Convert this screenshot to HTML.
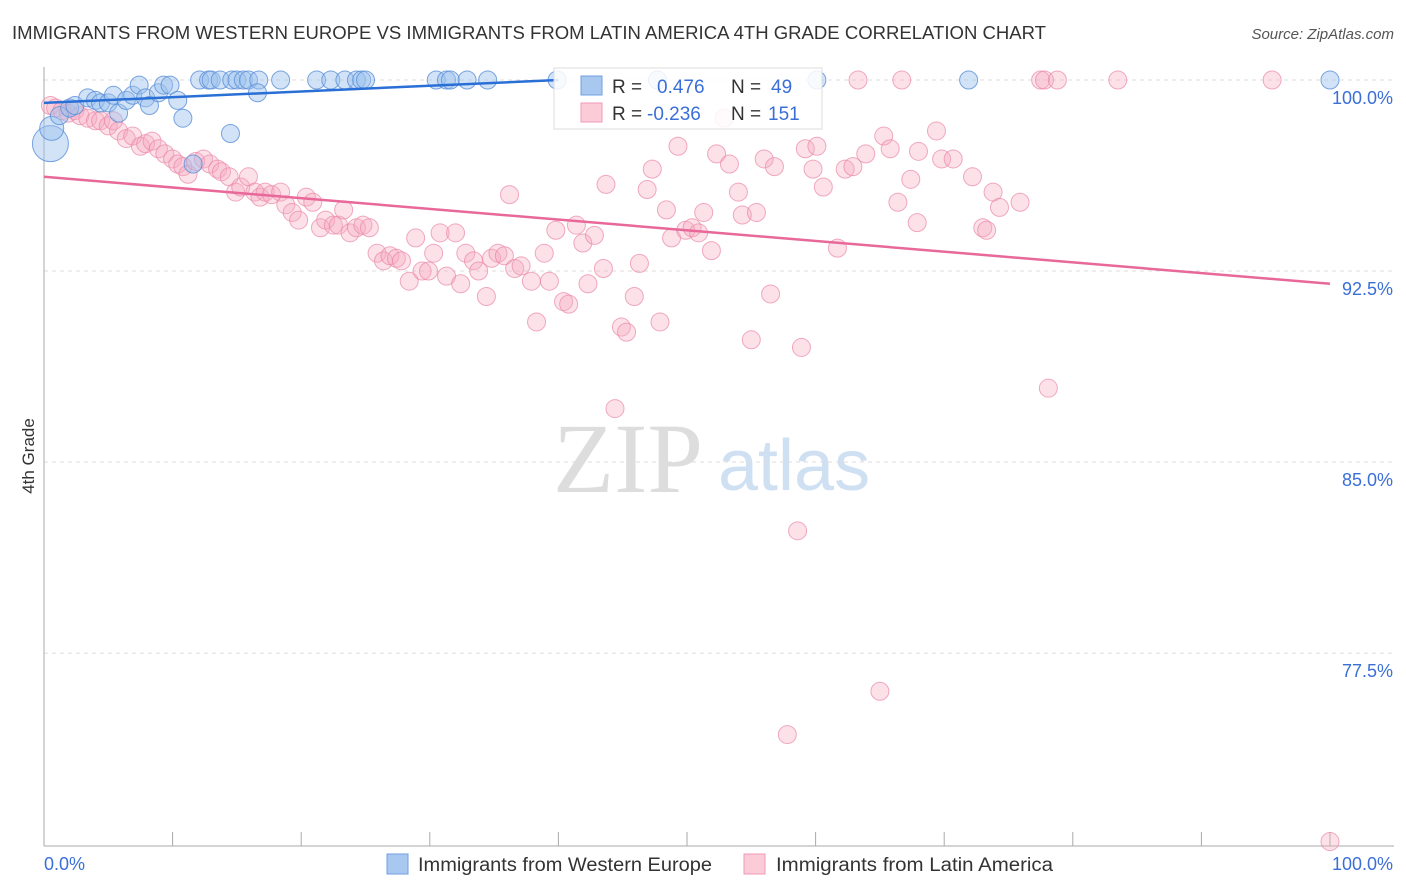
<!DOCTYPE html>
<html><head><meta charset="utf-8"><style>
body{margin:0;background:#fff;font-family:"Liberation Sans",sans-serif}
svg{display:block}
</style></head><body>
<svg id="chart" width="1406" height="892" xmlns="http://www.w3.org/2000/svg" font-family="Liberation Sans, sans-serif">
<text x="12" y="39" font-size="18" fill="#333" textLength="1034" lengthAdjust="spacingAndGlyphs">IMMIGRANTS FROM WESTERN EUROPE VS IMMIGRANTS FROM LATIN AMERICA 4TH GRADE CORRELATION CHART</text>
<text x="1394" y="39" font-size="15" fill="#555" font-style="italic" text-anchor="end">Source: ZipAtlas.com</text>
<g>
<text x="553" y="492" font-family="Liberation Serif, serif" font-size="100" fill="#ddd">ZIP</text>
<text x="718" y="490" font-size="72" fill="#cfe0f3">atlas</text>
</g>
<text transform="translate(34,456) rotate(-90)" font-size="17" fill="#333" text-anchor="middle">4th Grade</text>
<g id="grid"></g>
<g id="axes"></g>
<g id="marks"></g>
<g>
<rect x="554" y="68" width="268" height="61" fill="#fff" fill-opacity="0.85" stroke="#ddd"/>
<rect x="581" y="76" width="21" height="19" fill="#a9c8f0" stroke="#6f9fe0"/>
<rect x="581" y="103" width="21" height="19" fill="#fbcbd8" stroke="#f09ab4"/>
<text x="612" y="93" font-size="19" fill="#333">R =</text><text x="657" y="93" font-size="19" fill="#3a6fd8">0.476</text>
<text x="731" y="93" font-size="19" fill="#333">N =</text><text x="771" y="93" font-size="19" fill="#3a6fd8">49</text>
<text x="612" y="120" font-size="19" fill="#333">R =</text><text x="647" y="120" font-size="19" fill="#3a6fd8">-0.236</text>
<text x="731" y="120" font-size="19" fill="#333">N =</text><text x="768" y="120" font-size="19" fill="#3a6fd8">151</text>
</g>
<g>
<rect x="387" y="854" width="21" height="20" fill="#a9c8f0" stroke="#6f9fe0"/>
<text x="418" y="871" font-size="19" fill="#333" textLength="294" lengthAdjust="spacingAndGlyphs">Immigrants from Western Europe</text>
<rect x="744" y="854" width="21" height="20" fill="#fbcbd8" stroke="#f09ab4"/>
<text x="776" y="871" font-size="19" fill="#333" textLength="277" lengthAdjust="spacingAndGlyphs">Immigrants from Latin America</text>
</g>
</svg>
<script>
const blueX=[0.5,0.6,1.2,2.0,2.4,3.4,4.0,4.4,5.0,5.4,5.8,6.4,6.9,7.4,7.9,8.2,8.9,9.3,9.8,10.4,10.8,11.6,12.1,12.8,13.0,13.7,14.6,15.0,15.5,15.9,16.7,16.6,18.4,14.5,21.2,22.3,23.4,24.3,24.7,25.0,30.5,31.3,31.6,32.9,34.5,39.9,47.7,60.1,71.9,100];
const blueY=[97.5,98.1,98.6,98.9,99.0,99.3,99.2,99.1,99.1,99.4,98.7,99.2,99.4,99.8,99.3,99.0,99.5,99.8,99.8,99.2,98.5,96.7,100,100,100,100,100,100,100,100,100,99.5,100,97.9,100,100,100,100,100,100,100,100,100,100,100,100,100,100,100,100];
const pinkX=[0.5,0.9,1.4,1.9,2.4,2.8,3.4,4.0,4.4,5.0,5.4,5.8,6.4,6.9,7.5,7.9,8.4,8.9,9.4,10.0,10.4,10.8,11.2,11.8,12.4,12.9,13.5,13.8,14.4,14.9,15.3,15.9,16.4,16.8,17.2,17.7,18.4,18.8,19.3,19.8,20.4,20.9,21.5,21.9,22.5,22.9,23.3,23.8,24.3,24.8,25.3,25.9,26.4,26.9,27.4,27.8,28.9,28.4,29.4,29.9,30.3,30.8,31.3,32.0,32.4,32.8,33.4,33.8,34.4,34.8,35.3,35.8,36.2,36.6,37.1,37.9,38.3,38.9,39.3,39.8,40.4,40.8,41.4,41.9,42.3,42.8,43.5,43.7,44.4,44.9,45.3,45.9,46.3,46.9,47.3,47.9,48.4,48.8,49.3,49.9,50.4,50.9,51.3,51.9,52.3,52.9,53.3,54.0,54.3,55.0,55.4,56.0,56.5,56.8,57.8,58.6,58.9,59.2,59.8,60.1,60.6,61.7,62.3,62.9,63.3,63.9,65.3,65.8,66.4,66.7,67.4,67.9,68.0,69.4,69.8,70.7,72.2,73.0,73.3,73.8,74.3,75.9,77.5,77.8,78.1,78.8,83.5,95.5,100,65.0];
const pinkY=[99.0,98.9,98.8,98.7,98.8,98.6,98.5,98.4,98.4,98.2,98.4,98.0,97.7,97.8,97.4,97.5,97.6,97.3,97.1,96.9,96.7,96.6,96.3,96.8,96.9,96.7,96.5,96.4,96.2,95.6,95.8,96.2,95.6,95.4,95.6,95.5,95.6,95.1,94.8,94.5,95.4,95.2,94.2,94.5,94.3,94.3,94.9,94.0,94.2,94.3,94.2,93.2,92.9,93.1,93.0,92.9,93.8,92.1,92.5,92.5,93.2,94.0,92.3,94.0,92.0,93.2,92.9,92.5,91.5,93.0,93.2,93.1,95.5,92.6,92.7,92.1,90.5,93.2,92.1,94.1,91.3,91.2,94.3,93.6,92.0,93.9,92.6,95.9,87.1,90.3,90.1,91.5,92.8,95.7,96.5,90.5,94.9,93.8,97.4,94.1,94.2,94.0,94.8,93.3,97.1,98.5,96.7,95.6,94.7,89.8,94.8,96.9,91.6,96.6,74.3,82.3,89.5,97.3,96.5,97.4,95.8,93.4,96.5,96.6,100,97.1,97.8,97.3,95.2,100,96.1,94.4,97.2,98.0,96.9,96.9,96.2,94.2,94.1,95.6,95.0,95.2,100,100,87.9,100,100,100,70.1,76.0];
const blueTrend=[[0,99.1],[40,100.0]];
const pinkTrend=[[0,96.2],[100,92.0]];
const yTicks=[100,92.5,85,77.5];
const yTickLabels=["100.0%","92.5%","85.0%","77.5%"];
const xTicks=[0,10,20,30,40,50,60,70,80,90,100];

const NS="http://www.w3.org/2000/svg";
const X=v=>44+v*12.86;
const Y=v=>80+(100-v)*25.47;
function mk(tag,attrs,parent){const e=document.createElementNS(NS,tag);for(const k in attrs)e.setAttribute(k,attrs[k]);parent.appendChild(e);return e;}
const grid=document.getElementById('grid'),axes=document.getElementById('axes'),marks=document.getElementById('marks');
yTicks.forEach((t,i)=>{
 const l=mk('line',{x1:44,x2:1394,y1:Y(t),y2:Y(t),stroke:'#ddd','stroke-dasharray':'4,4'},grid);
 
 
 const tx=mk('text',{x:1393,y:Y(t)+24,'font-size':18,fill:'#3a6fd8','text-anchor':'end'},axes);
 tx.textContent=yTickLabels[i];
 
 
});
const ya=mk('line',{x1:44,x2:44,y1:67,y2:846,stroke:'#aaa'},axes);


const xa=mk('line',{x1:44,x2:1394,y1:846,y2:846,stroke:'#aaa'},axes);


xTicks.forEach(t=>{
 const l=mk('line',{x1:X(t),x2:X(t),y1:832,y2:846,stroke:'#aaa'},axes);
 
 
});
const xl0=mk('text',{x:44,y:870,'font-size':18,fill:'#3a6fd8'},axes);xl0.textContent='0.0%';


const xl1=mk('text',{x:1393,y:870,'font-size':18,fill:'#3a6fd8','text-anchor':'end'},axes);xl1.textContent='100.0%';



pinkX.forEach((x,i)=>{
 const c=mk('circle',{cx:X(x),cy:Y(pinkY[i]),r:9,fill:'#f7a8c0','fill-opacity':0.35,stroke:'#ea88a8','stroke-opacity':0.7,'stroke-width':1},marks);
 
 
});
blueX.forEach((x,i)=>{
 const r=i===0?18:(i===1?12:9);
 const c=mk('circle',{cx:X(x),cy:Y(blueY[i]),r:r,fill:'#9cc0ee','fill-opacity':0.45,stroke:'#5a8fd8','stroke-opacity':0.8,'stroke-width':1},marks);
 
 
});
const bl=mk('line',{x1:X(blueTrend[0][0]),y1:Y(blueTrend[0][1]),x2:X(blueTrend[1][0]),y2:Y(blueTrend[1][1]),stroke:'#2a6fd6','stroke-width':2.5},marks);


const pl=mk('line',{x1:X(pinkTrend[0][0]),y1:Y(pinkTrend[0][1]),x2:X(pinkTrend[1][0]),y2:Y(pinkTrend[1][1]),stroke:'#e8689a','stroke-width':2.5},marks);


</script>
</body></html>
